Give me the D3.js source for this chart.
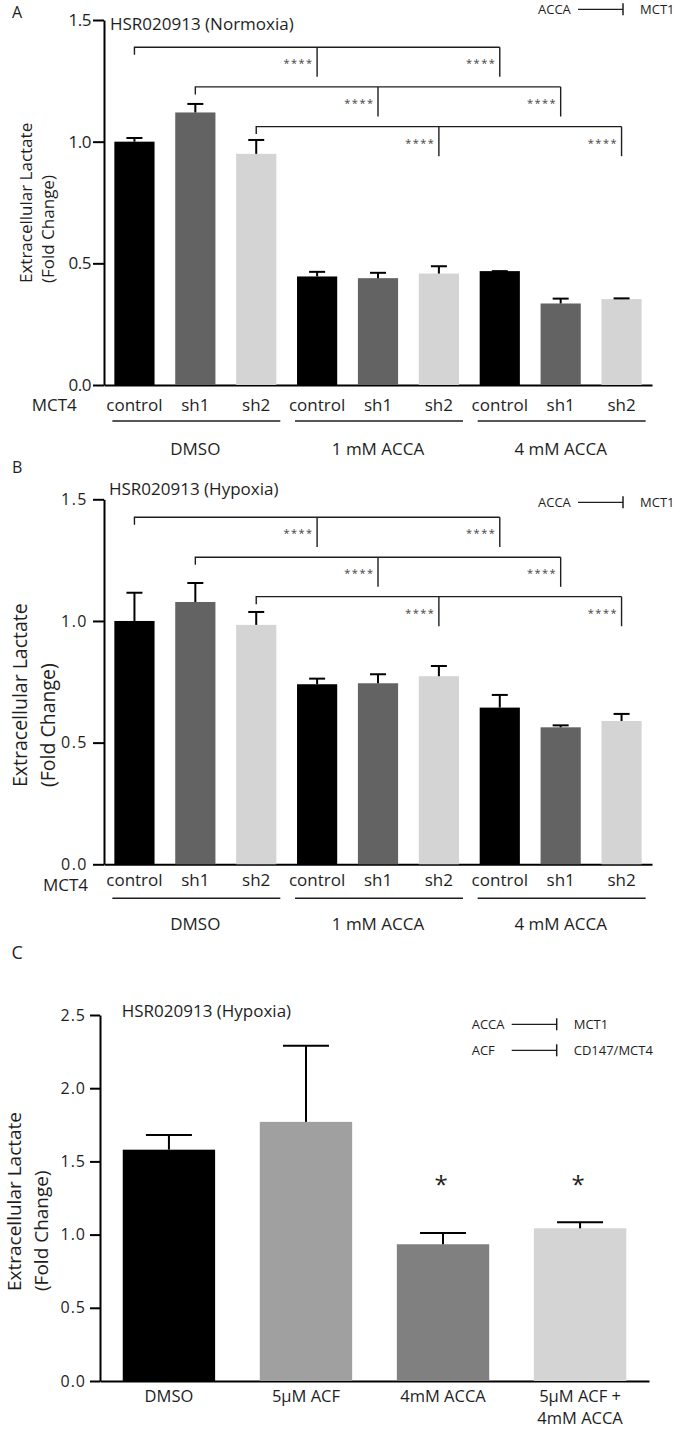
<!DOCTYPE html>
<html>
<head>
<meta charset="utf-8">
<script src="https://cdnjs.cloudflare.com/ajax/libs/d3/7.8.5/d3.min.js"></script>
<style>
  body { margin: 0; background: #fff; }
  svg { display: block; font-family: "Open Sans", sans-serif; }
</style>
</head>
<body>
<svg id="fig" width="675" height="1430"></svg>
<script>
// panels A and B: 3 treatments x 3 MCT4 lines
const shGroups = ["DMSO", "1 mM ACCA", "4 mM ACCA"];
const shLines = ["control", "sh1", "sh2"];
const shColors = ["#000000", "#636363", "#d4d4d4"];
const normoxiaMean = [1.00, 1.12, 0.95, 0.446, 0.439, 0.458, 0.468, 0.335, 0.353];
const normoxiaSem  = [0.015, 0.035, 0.057, 0.019, 0.022, 0.030, 0.000, 0.020, 0.003];
const hypoxiaMean  = [1.00, 1.078, 0.984, 0.740, 0.744, 0.773, 0.644, 0.563, 0.589];
const hypoxiaSem   = [0.116, 0.078, 0.053, 0.023, 0.037, 0.042, 0.052, 0.008, 0.029];
const ticksAB = [0, 0.5, 1.0, 1.5];
// significance brackets: from bar -> [bar, bar], each "****"
const bracketFrom = [0, 1, 2];
const bracketTo = [[3, 6], [4, 7], [5, 8]];
const normoxiaLevels = [1.388, 1.225, 1.062];
const hypoxiaLevels = [1.426, 1.262, 1.100];
const inhibitorsAB = ["ACCA"];
const targetsAB = ["MCT1"];

// panel C
const comboLabels = ["DMSO", "5\u03bcM ACF", "4mM ACCA", "5\u03bcM ACF +|4mM ACCA"];
const comboMean = [1.58, 1.77, 0.934, 1.043];
const comboSem  = [0.10, 0.52, 0.077, 0.041];
const comboColors = ["#000000", "#a0a0a0", "#808080", "#d4d4d4"];
const comboSig = ["", "", "*", "*"];
const comboSigLevel = 1.36;
const ticksC = [0, 0.5, 1.0, 1.5, 2.0, 2.5];
const inhibitorsC = ["ACCA", "ACF"];
const targetsC = ["MCT1", "CD147/MCT4"];

const svg = d3.select("#fig");
svg.append("rect").attr("width", 675).attr("height", 1430).attr("fill", "#fff");
const ink = "#1e1e1e";

function legend(g, x, y, inhib, targ) {
  inhib.forEach((name, i) => {
    const yy = y + i * 26;
    g.append("text").attr("x", x).attr("y", yy + 4.5).attr("font-size", 13).attr("fill", ink).text(name);
    g.append("line").attr("x1", x + 40).attr("x2", x + 85).attr("y1", yy).attr("y2", yy)
      .attr("stroke", ink).attr("stroke-width", 1.3);
    g.append("line").attr("x1", x + 85).attr("x2", x + 85).attr("y1", yy - 6).attr("y2", yy + 6)
      .attr("stroke", ink).attr("stroke-width", 1.5);
    g.append("text").attr("x", x + 102).attr("y", yy + 4.5).attr("font-size", 13).attr("fill", ink).text(targ[i]);
  });
}

function yLabel(g, x1, x2, yStart, size) {
  g.append("text").attr("transform", `translate(${x1},${yStart}) rotate(-90)`)
    .attr("font-size", size).attr("fill", ink).text("Extracellular Lactate");
  g.append("text").attr("transform", `translate(${x2},${yStart}) rotate(-90)`)
    .attr("font-size", size).attr("fill", ink).text("(Fold Change)");
}

function styleAxis(a) {
  a.attr("font-family", null).attr("font-size", null);
  a.select(".domain").attr("stroke", "#000").attr("stroke-width", 2);
  a.selectAll(".tick line").attr("stroke", "#000").attr("stroke-width", 2);
}

function drawShPanel(o) {
  const g = svg.append("g");
  const x = d3.scaleBand().domain(d3.range(o.mean.length)).range([104, 652])
    .paddingInner(0.34).paddingOuter(0.17);
  const y = d3.scaleLinear().domain([0, 1.5]).range([o.y0, o.y0 - 365]);
  const bw = x.bandwidth();
  const cx = i => x(i) + bw / 2;

  const ya = g.append("g").attr("transform", "translate(104,0)")
    .call(d3.axisLeft(y).tickValues(ticksAB).tickFormat(d3.format(".1f"))
      .tickSize(11).tickPadding(o.tickPad).tickSizeOuter(0));
  styleAxis(ya);
  ya.selectAll(".tick text").attr("fill", ink).attr("font-size", o.tickFont)
    .style("letter-spacing", o.tickLs + "px");

  const xa = g.append("g").attr("transform", `translate(0,${o.y0})`)
    .call(d3.axisBottom(x).tickValues([]).tickSizeOuter(0));
  styleAxis(xa);

  g.selectAll("rect.bar").data(o.mean).join("rect").attr("class", "bar")
    .attr("x", (d, i) => x(i)).attr("y", d => y(d))
    .attr("width", bw).attr("height", d => o.y0 - y(d))
    .attr("fill", (d, i) => shColors[i % 3]);

  const err = g.append("g").attr("stroke", "#000").attr("stroke-width", 2);
  o.mean.forEach((m, i) => {
    const top = y(m + o.sem[i]);
    err.append("line").attr("x1", cx(i)).attr("x2", cx(i)).attr("y1", y(m)).attr("y2", top);
    err.append("line").attr("x1", cx(i) - 8).attr("x2", cx(i) + 8).attr("y1", top).attr("y2", top);
  });

  // brackets
  const br = g.append("g").attr("fill", "none").attr("stroke", ink).attr("stroke-width", 1.4);
  bracketFrom.forEach((f, k) => {
    const yl = y(o.levels[k]);
    const ends = bracketTo[k];
    br.append("path").attr("d", `M${cx(f)},${yl + 7.5}V${yl}H${cx(ends[ends.length - 1])}`);
    ends.forEach(e => {
      br.append("path").attr("d", `M${cx(e)},${yl}V${yl + 29.6}`);
      g.append("text").attr("x", cx(e) - 3.5).attr("y", yl + 20).attr("text-anchor", "end")
        .attr("font-size", 11).style("letter-spacing", "1.5px").attr("fill", "#444").text("****");
    });
  });

  // x labels
  g.selectAll("text.sub").data(d3.range(o.mean.length)).join("text").attr("class", "sub")
    .attr("x", cx).attr("y", o.y0 + o.subDy).attr("text-anchor", "middle")
    .attr("font-size", 17).attr("fill", ink).text(i => shLines[i % 3]);
  g.append("text").attr("x", o.mctX).attr("y", o.y0 + o.mctDy)
    .attr("font-size", 17).attr("fill", ink).text("MCT4");
  shGroups.forEach((name, k) => {
    const a = 3 * k, b = 3 * k + 2;
    g.append("line").attr("x1", x(a) - 2).attr("x2", x(b) + bw + 4)
      .attr("y1", o.y0 + o.lineDy).attr("y2", o.y0 + o.lineDy)
      .attr("stroke", ink).attr("stroke-width", 1.4);
    g.append("text").attr("x", cx(a + 1)).attr("y", o.y0 + o.groupDy).attr("text-anchor", "middle")
      .attr("font-size", 17).attr("fill", ink).text(name);
  });

  g.append("text").attr("x", o.titleX).attr("y", o.titleY).attr("font-size", 17).attr("fill", ink).text(o.title);
  g.append("text").attr("x", 12).attr("y", o.tagY).attr("font-size", 16).attr("fill", ink).text(o.tag);
  legend(g, 538, o.legendY, inhibitorsAB, targetsAB);
  yLabel(g, o.yl1, o.yl2, o.ylStart, o.ylFont);
}

drawShPanel({
  tag: "A", tagY: 18.3, y0: 385, mean: normoxiaMean, sem: normoxiaSem, levels: normoxiaLevels,
  tickFont: 17, tickLs: -0.5, tickPad: 2,
  title: "HSR020913 (Normoxia)", titleX: 110, titleY: 30, legendY: 9.3,
  subDy: 25.7, mctX: 31.7, mctDy: 26, lineDy: 36, groupDy: 70,
  yl1: 31.5, yl2: 53.7, ylStart: 283, ylFont: 17
});

drawShPanel({
  tag: "B", tagY: 473, y0: 864.3, mean: hypoxiaMean, sem: hypoxiaSem, levels: hypoxiaLevels,
  tickFont: 16, tickLs: 1.5, tickPad: 5,
  title: "HSR020913 (Hypoxia)", titleX: 109, titleY: 495, legendY: 502.3,
  subDy: 22, mctX: 43, mctDy: 26.7, lineDy: 34, groupDy: 65.7,
  yl1: 26.5, yl2: 55, ylStart: 787, ylFont: 19.5
});

// panel C
(function () {
  const g = svg.append("g");
  const y0 = 1381;
  const x = d3.scaleBand().domain(d3.range(comboMean.length)).range([100, 649])
    .paddingInner(0.326).paddingOuter(0.166);
  const y = d3.scaleLinear().domain([0, 2.5]).range([y0, 1015]);
  const bw = x.bandwidth();
  const cx = i => x(i) + bw / 2;

  const ya = g.append("g").attr("transform", "translate(100,0)")
    .call(d3.axisLeft(y).tickValues(ticksC).tickFormat(d3.format(".1f"))
      .tickSize(10).tickPadding(4).tickSizeOuter(0));
  styleAxis(ya);
  ya.selectAll(".tick text").attr("fill", ink).attr("font-size", 16).style("letter-spacing", "1px");

  const xa = g.append("g").attr("transform", `translate(0,${y0})`)
    .call(d3.axisBottom(x).tickValues([]).tickSizeOuter(0));
  styleAxis(xa);

  g.selectAll("rect.bar").data(comboMean).join("rect").attr("class", "bar")
    .attr("x", (d, i) => x(i)).attr("y", d => y(d))
    .attr("width", bw).attr("height", d => y0 - y(d))
    .attr("fill", (d, i) => comboColors[i]);

  const err = g.append("g").attr("stroke", "#000").attr("stroke-width", 2);
  comboMean.forEach((m, i) => {
    const top = y(m + comboSem[i]);
    err.append("line").attr("x1", cx(i)).attr("x2", cx(i)).attr("y1", y(m)).attr("y2", top);
    err.append("line").attr("x1", cx(i) - 23).attr("x2", cx(i) + 23).attr("y1", top).attr("y2", top);
  });

  g.selectAll("text.sig").data(comboSig).join("text").attr("class", "sig")
    .attr("x", (d, i) => cx(i) - 2).attr("y", y(comboSigLevel) + 11).attr("text-anchor", "middle")
    .attr("font-size", 24).attr("fill", ink).text(d => d);

  comboLabels.forEach((lab, i) => {
    lab.split("|").forEach((part, j) => {
      g.append("text").attr("x", cx(i)).attr("y", y0 + 20.7 + j * 22.5).attr("text-anchor", "middle")
        .attr("font-size", 16.5).attr("fill", ink).text(part);
    });
  });

  g.append("text").attr("x", 121.7).attr("y", 1016.7).attr("font-size", 17).attr("fill", ink)
    .text("HSR020913 (Hypoxia)");
  g.append("text").attr("x", 11.5).attr("y", 959.3).attr("font-size", 18).attr("fill", ink).text("C");
  legend(g, 471.7, 1024.3, inhibitorsC, targetsC);
  yLabel(g, 20.5, 48, 1291, 19);
})();
</script>
</body>
</html>
